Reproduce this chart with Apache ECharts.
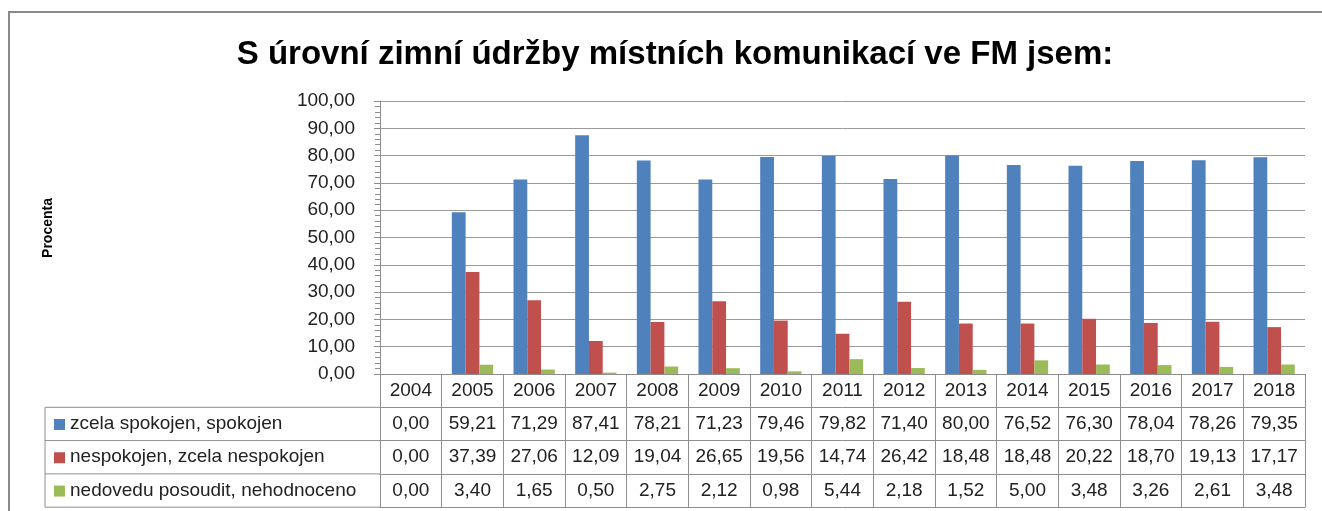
<!DOCTYPE html>
<html>
<head>
<meta charset="utf-8">
<script src="https://cdn.jsdelivr.net/npm/echarts@6/dist/echarts.min.js"></script>
<style>
  html, body { margin: 0; padding: 0; background: #fff; }
  #chart { width: 1322px; height: 511px; }
</style>
</head>
<body>
<div id="chart"></div>
<script>
const years = ['2004', '2005', '2006', '2007', '2008', '2009', '2010', '2011', '2012', '2013', '2014', '2015', '2016', '2017', '2018'];
const spokojen = [0.00, 59.21, 71.29, 87.41, 78.21, 71.23, 79.46, 79.82, 71.40, 80.00, 76.52, 76.30, 78.04, 78.26, 79.35];
const nespokojen = [0.00, 37.39, 27.06, 12.09, 19.04, 26.65, 19.56, 14.74, 26.42, 18.48, 18.48, 20.22, 18.70, 19.13, 17.17];
const nedovedu = [0.00, 3.40, 1.65, 0.50, 2.75, 2.12, 0.98, 5.44, 2.18, 1.52, 5.00, 3.48, 3.26, 2.61, 3.48];
const seriesNames = ['zcela spokojen, spokojen', 'nespokojen, zcela nespokojen', 'nedovedu posoudit, nehodnoceno'];
const colors = ['#4F81BD', '#C0504D', '#9BBB59'];
const yTicks = [0, 10, 20, 30, 40, 50, 60, 70, 80, 90, 100];

const fmt = v => v.toFixed(2).replace('.', ',');
const font = '"Liberation Sans", Arial, sans-serif';
const lineCol = '#8e8e8e';

// layout
const gLeft = 380, gRight = 17, gTop = 101, gBottom = 137;
const rowH = 33.3;
const tableLeft = 45;
const zeroY = 511 - gBottom;
const tableFont = 19;

const chart = echarts.init(document.getElementById('chart'));

function rowAxis(values, idx) {
  return {
    type: 'category',
    position: 'bottom',
    offset: rowH * idx,
    data: values,
    boundaryGap: true,
    axisLine: { show: true, lineStyle: { color: lineCol, width: 1 } },
    axisTick: { show: true, interval: 0, length: rowH, lineStyle: { color: lineCol } },
    axisLabel: { show: true, interval: 0, margin: 7, fontSize: tableFont, fontFamily: font, color: '#222' },
    splitLine: { show: false }
  };
}

const tableRows = [spokojen, nespokojen, nedovedu].map(arr => arr.map(fmt));
const xAxes = [rowAxis(years, 0)];
tableRows.forEach((r, i) => xAxes.push(rowAxis(r, i + 1)));
const lastAxis = rowAxis(years.map(() => ''), 4);
lastAxis.axisTick.show = false;
lastAxis.axisLabel.show = false;
xAxes.push(lastAxis);

// left legend column of the data table
const graphics = [
  {
    type: 'rect', z: -1, silent: true,
    shape: { x: 9, y: 12, width: 1340, height: 540 },
    style: { fill: 'none', stroke: '#8a8a8a', lineWidth: 2 }
  },
  {
    type: 'text', x: 48, y: 228, rotation: Math.PI / 2,
    style: { text: 'Procenta', font: 'bold 14px ' + font, fill: '#000', align: 'center', verticalAlign: 'middle' }
  },
  {
    type: 'line',
    shape: { x1: tableLeft, y1: zeroY + rowH, x2: tableLeft, y2: zeroY + rowH * 4 },
    style: { stroke: lineCol, lineWidth: 1 }
  }
];
for (let i = 1; i <= 4; i++) {
  graphics.push({
    type: 'line',
    shape: { x1: tableLeft, y1: zeroY + rowH * i, x2: gLeft, y2: zeroY + rowH * i },
    style: { stroke: lineCol, lineWidth: 1 }
  });
}
seriesNames.forEach((n, i) => {
  const cy = zeroY + rowH * (i + 1) + rowH / 2;
  graphics.push({
    type: 'rect', shape: { x: 54, y: cy - 5, width: 11, height: 11 },
    style: { fill: colors[i] }
  });
  graphics.push({
    type: 'text', x: 70, y: cy,
    style: { text: n, font: tableFont + 'px ' + font, fill: '#222', verticalAlign: 'middle' }
  });
});

const option = {
  animation: false,
  backgroundColor: '#fff',
  title: {
    text: 'S úrovní zimní údržby místních komunikací ve FM jsem:',
    left: 670,
    textAlign: 'center',
    top: 33,
    textStyle: { fontSize: 33, fontWeight: 'bold', fontFamily: font, color: '#000' }
  },
  grid: { left: gLeft, right: gRight, top: gTop, bottom: gBottom, containLabel: false },
  xAxis: xAxes,
  yAxis: {
    type: 'value',
    min: yTicks[0],
    max: yTicks[yTicks.length - 1],
    interval: 10,
    axisLine: { show: true, lineStyle: { color: lineCol } },
    axisTick: { show: true, length: 6, lineStyle: { color: lineCol } },
    minorTick: { show: true, splitNumber: 5, length: 5, lineStyle: { color: lineCol } },
    splitLine: { show: true, lineStyle: { color: '#9a9a9a', width: 1 } },
    axisLabel: { margin: 25, fontSize: 19, fontFamily: font, color: '#222', formatter: v => fmt(v) }
  },
  series: [spokojen, nespokojen, nedovedu].map((d, i) => ({
    name: seriesNames[i],
    type: 'bar',
    xAxisIndex: 0,
    data: d,
    barGap: '0%',
    barCategoryGap: '33%',
    itemStyle: { color: colors[i] }
  })),
  graphic: graphics
};

chart.setOption(option);
</script>
</body>
</html>
